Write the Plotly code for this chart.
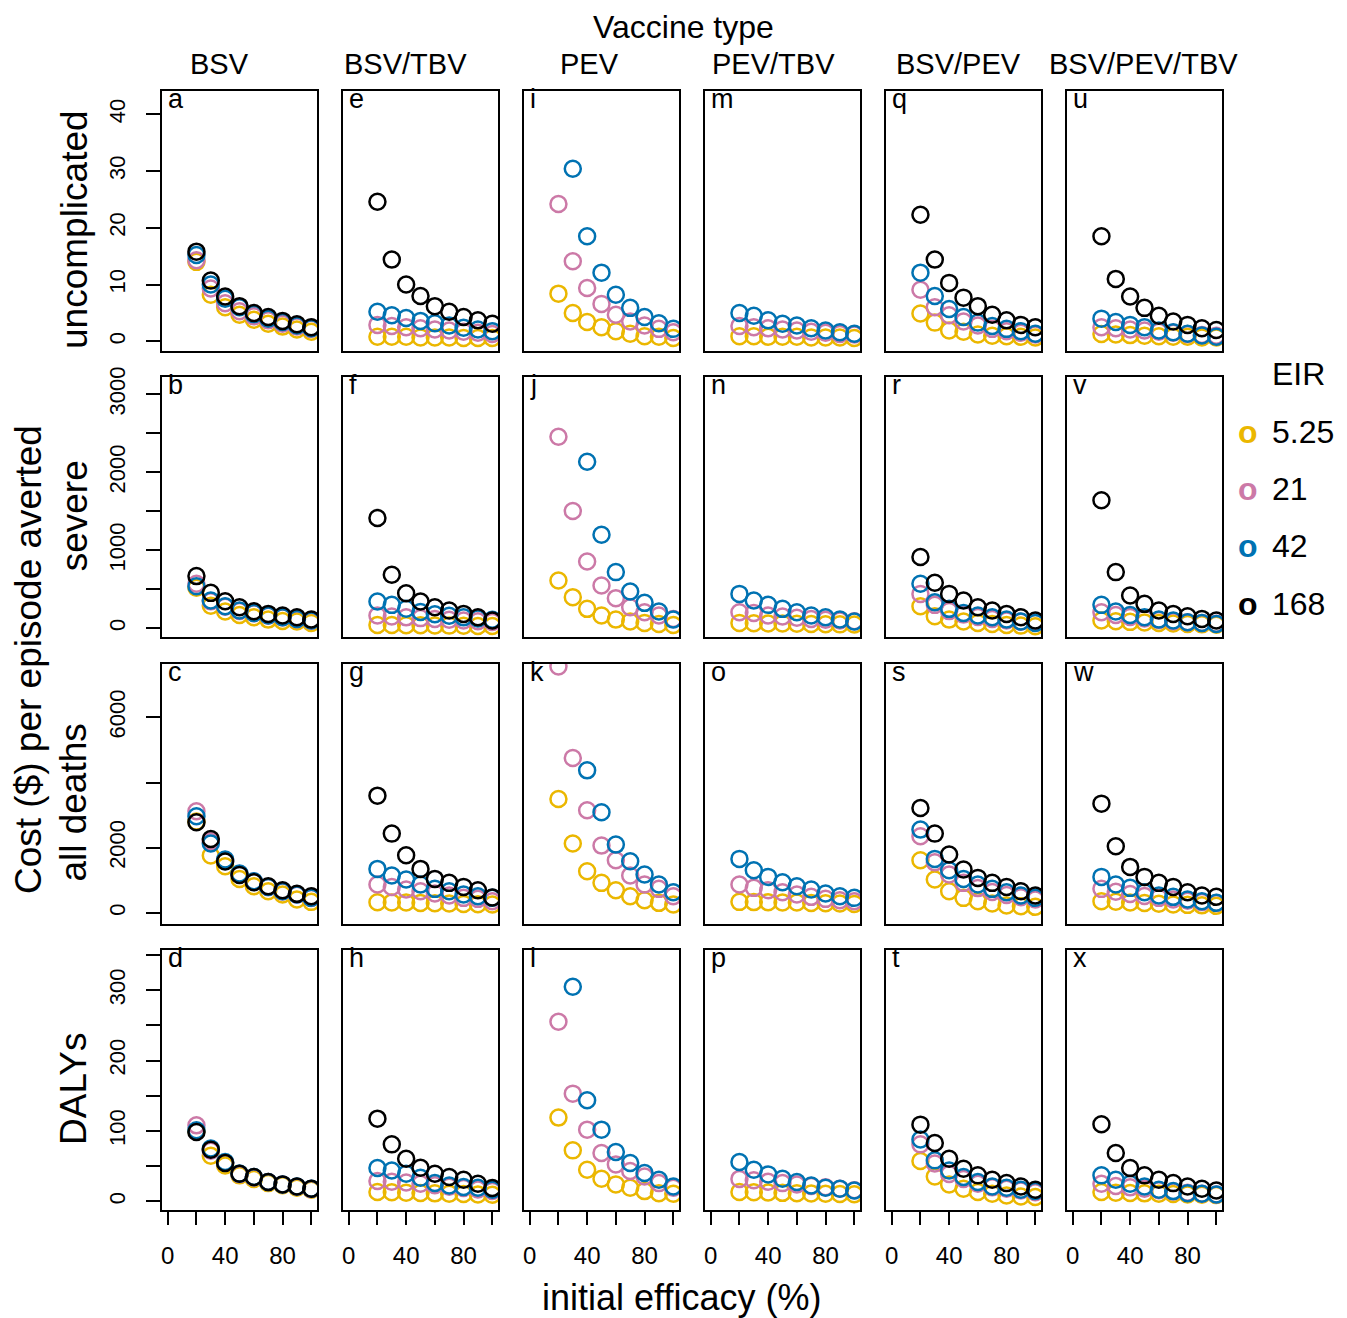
import plotly.graph_objects as go

W, H = 1347, 1318
OFF_X, OFF_Y = -8, -8   # compensate page body margin

# ---------------- data ----------------
EFFICACY = [20, 30, 40, 50, 60, 70, 80, 90, 100]
EIR_LABELS = ["5.25", "21", "42", "168"]
VACCINES = ["BSV", "BSV/TBV", "PEV", "PEV/TBV", "BSV/PEV", "BSV/PEV/TBV"]
OUTCOMES = ["uncomplicated", "severe", "all deaths", "DALYs"]
PANEL_LETTERS = ["a", "b", "c", "d", "e", "f", "g", "h", "i", "j", "k", "l",
                 "m", "n", "o", "p", "q", "r", "s", "t", "u", "v", "w", "x"]
N = None

# uncomplicated
unc_BSV_525 = [14.0, 8.2, 6.0, 4.7, 3.8, 3.1, 2.6, 2.1, 1.7]
unc_BSV_21 = [14.3, 9.3, 6.7, 5.3, 4.4, 3.7, 3.1, 2.6, 2.2]
unc_BSV_42 = [15.2, 10.0, 7.5, 6.0, 4.8, 4.0, 3.4, 2.8, 2.3]
unc_BSV_168 = [15.8, 10.7, 7.9, 6.2, 5.0, 4.3, 3.6, 3.0, 2.5]
unc_BSVTBV_525 = [0.8, 0.8, 0.8, 0.7, 0.7, 0.7, 0.6, 0.6, 0.6]
unc_BSVTBV_21 = [2.9, 2.7, 2.5, 2.3, 2.1, 1.9, 1.7, 1.5, 1.3]
unc_BSVTBV_42 = [5.2, 4.6, 4.1, 3.6, 3.2, 2.8, 2.4, 2.1, 1.8]
unc_BSVTBV_168 = [24.6, 14.4, 10.0, 8.0, 6.2, 5.2, 4.3, 3.7, 3.1]
unc_PEV_525 = [8.4, 5.0, 3.4, 2.5, 1.8, 1.35, 0.9, 0.8, 0.6]
unc_PEV_21 = [24.2, 14.1, 9.4, 6.6, 4.7, 3.5, 2.8, 2.2, 1.6]
unc_PEV_42 = [N, 30.4, 18.5, 12.1, 8.2, 5.9, 4.3, 3.2, 2.2]
unc_PEV_168 = [N, N, N, N, N, N, N, N, N]
unc_PEVTBV_525 = [0.9, 0.9, 0.8, 0.8, 0.8, 0.7, 0.7, 0.7, 0.6]
unc_PEVTBV_21 = [2.7, 2.5, 2.3, 2.1, 1.9, 1.7, 1.5, 1.3, 1.2]
unc_PEVTBV_42 = [5.0, 4.5, 3.7, 3.1, 2.8, 2.3, 1.9, 1.6, 1.35]
unc_PEVTBV_168 = [N, N, N, N, N, N, N, N, N]
unc_BSVPEV_525 = [4.9, 3.3, 1.9, 1.7, 1.2, 1.0, 0.9, 0.8, 0.7]
unc_BSVPEV_21 = [9.1, 6.0, 4.6, 3.5, 2.8, 2.2, 1.8, 1.5, 1.2]
unc_BSVPEV_42 = [12.1, 8.0, 5.7, 4.3, 3.3, 2.7, 2.2, 1.8, 1.35]
unc_BSVPEV_168 = [22.3, 14.4, 10.3, 7.7, 6.2, 4.7, 3.7, 2.9, 2.5]
unc_ALL_525 = [1.3, 1.2, 1.1, 1.0, 0.9, 0.8, 0.8, 0.7, 0.7]
unc_ALL_21 = [2.5, 2.3, 2.1, 1.9, 1.7, 1.5, 1.3, 1.1, 1.0]
unc_ALL_42 = [4.0, 3.4, 2.9, 2.5, 1.9, 1.6, 1.35, 1.05, 0.8]
unc_ALL_168 = [18.5, 11.0, 7.9, 5.9, 4.5, 3.5, 2.9, 2.3, 2.0]

# severe
sev_BSV_525 = [520, 290, 214, 171, 141, 111, 94, 86, 69]
sev_BSV_21 = [570, 345, 275, 222, 192, 160, 138, 117, 96]
sev_BSV_42 = [540, 356, 283, 227, 197, 163, 141, 120, 99]
sev_BSV_168 = [669, 454, 347, 270, 219, 184, 163, 141, 111]
sev_BSVTBV_525 = [43, 42, 40, 38, 36, 34, 32, 30, 28]
sev_BSVTBV_21 = [163, 150, 140, 130, 120, 110, 100, 90, 80]
sev_BSVTBV_42 = [343, 300, 250, 210, 180, 160, 140, 125, 110]
sev_BSVTBV_168 = [1414, 686, 450, 343, 270, 227, 184, 141, 99]
sev_PEV_525 = [613, 399, 249, 163, 111, 86, 69, 56, 43]
sev_PEV_21 = [2456, 1504, 857, 549, 386, 270, 206, 163, 120]
sev_PEV_42 = [N, N, 2135, 1200, 720, 471, 326, 214, 111]
sev_PEV_168 = [N, N, N, N, N, N, N, N, N]
sev_PEVTBV_525 = [69, 65, 62, 60, 57, 55, 52, 50, 48]
sev_PEVTBV_21 = [206, 197, 163, 150, 135, 120, 110, 100, 90]
sev_PEVTBV_42 = [441, 356, 300, 249, 206, 163, 141, 111, 86]
sev_PEVTBV_168 = [N, N, N, N, N, N, N, N, N]
sev_BSVPEV_525 = [283, 154, 111, 86, 69, 56, 43, 34, 26]
sev_BSVPEV_21 = [441, 300, 220, 175, 145, 120, 100, 85, 72]
sev_BSVPEV_42 = [570, 334, 249, 197, 163, 141, 111, 86, 69]
sev_BSVPEV_168 = [913, 583, 441, 356, 270, 227, 184, 141, 99]
sev_ALL_525 = [99, 90, 82, 75, 68, 62, 56, 50, 45]
sev_ALL_21 = [206, 170, 145, 125, 105, 90, 78, 68, 58]
sev_ALL_42 = [300, 214, 171, 141, 111, 99, 77, 69, 56]
sev_ALL_168 = [1642, 720, 420, 313, 227, 184, 154, 120, 99]

# all deaths
dth_BSV_525 = [2800, 1758, 1431, 1042, 818, 664, 562, 409, 337]
dth_BSV_21 = [3117, 2197, 1620, 1190, 960, 790, 655, 555, 455]
dth_BSV_42 = [2964, 2126, 1635, 1206, 971, 797, 664, 562, 460]
dth_BSV_168 = [2780, 2269, 1574, 1165, 940, 818, 695, 583, 511]
dth_BSVTBV_525 = [327, 320, 315, 305, 295, 285, 275, 265, 255]
dth_BSVTBV_21 = [869, 797, 715, 664, 593, 531, 460, 429, 358]
dth_BSVTBV_42 = [1349, 1145, 1022, 869, 736, 664, 562, 511, 460]
dth_BSVTBV_168 = [3597, 2432, 1768, 1349, 1042, 920, 797, 695, 470]
dth_PEV_525 = [3495, 2126, 1278, 920, 695, 511, 388, 307, 256]
dth_PEV_21 = [7560, 4752, 3148, 2064, 1615, 1145, 869, 736, 511]
dth_PEV_42 = [N, N, 4374, 3086, 2095, 1584, 1175, 869, 634]
dth_PEV_168 = [N, N, N, N, N, N, N, N, N]
dth_PEVTBV_525 = [337, 330, 325, 320, 315, 305, 295, 285, 275]
dth_PEVTBV_21 = [869, 767, 695, 634, 562, 491, 429, 388, 358]
dth_PEVTBV_42 = [1656, 1308, 1104, 940, 818, 715, 593, 511, 460]
dth_PEVTBV_168 = [N, N, N, N, N, N, N, N, N]
dth_BSVPEV_525 = [1615, 1022, 664, 460, 358, 286, 225, 204, 184]
dth_BSVPEV_21 = [2350, 1550, 1180, 920, 760, 640, 550, 480, 410]
dth_BSVPEV_42 = [2555, 1656, 1308, 1042, 869, 736, 634, 531, 460]
dth_BSVPEV_168 = [3219, 2432, 1789, 1329, 1073, 920, 797, 664, 531]
dth_ALL_525 = [358, 340, 320, 300, 280, 260, 245, 230, 215]
dth_ALL_21 = [736, 650, 580, 520, 460, 410, 370, 330, 300]
dth_ALL_42 = [1104, 869, 767, 634, 531, 491, 409, 358, 307]
dth_ALL_168 = [3352, 2044, 1410, 1104, 920, 797, 634, 531, 491]

# DALYs
dal_BSV_525 = [100, 65, 51, 37, 32, 26, 23, 19.4, 16.6]
dal_BSV_21 = [108, 72, 55, 39, 34, 27.5, 24, 21, 17.5]
dal_BSV_42 = [101, 75, 56, 39.5, 34.6, 27.5, 24.2, 21.3, 18]
dal_BSV_168 = [98.6, 73.5, 54.5, 39.3, 34.6, 27.5, 24.2, 21.3, 18]
dal_BSVTBV_525 = [13.3, 13, 12.5, 12, 11.5, 11, 10.5, 10, 9.5]
dal_BSVTBV_21 = [29, 28, 27, 25, 23, 21, 19, 17, 15]
dal_BSVTBV_42 = [47.4, 44, 39.3, 33.6, 26.1, 22.7, 20.4, 19.4, 16.6]
dal_BSVTBV_168 = [117.5, 81, 60.7, 47.9, 39.3, 34.6, 30.8, 25, 19]
dal_PEV_525 = [119, 72.5, 45, 32.2, 24.2, 19.4, 14.7, 11.8, 10.9]
dal_PEV_21 = [255, 153, 101.9, 68.7, 52.6, 43.1, 35.5, 26, 19.4]
dal_PEV_42 = [N, 304.7, 143.6, 101.9, 70.1, 54.5, 40.3, 30.8, 21.3]
dal_PEV_168 = [N, N, N, N, N, N, N, N, N]
dal_PEVTBV_525 = [13.3, 13, 12.6, 12.2, 11.8, 11.4, 11, 10.6, 10.2]
dal_PEVTBV_21 = [32, 30, 28, 26, 24, 22, 20, 18, 16]
dal_PEVTBV_42 = [55.9, 45, 38.4, 32.2, 27.5, 22.7, 19.4, 18, 15.6]
dal_PEVTBV_168 = [N, N, N, N, N, N, N, N, N]
dal_BSVPEV_525 = [57.3, 35.5, 24.2, 18, 13.3, 10.9, 8.5, 7.1, 6.2]
dal_BSVPEV_21 = [81, 54, 39, 32, 25, 20, 18, 15.6, 13]
dal_BSVPEV_42 = [88, 58.3, 44, 34.6, 27.5, 21.3, 19.4, 16.6, 14.7]
dal_BSVPEV_168 = [109, 83, 60.7, 46.4, 37, 30.8, 26, 21.3, 16.6]
dal_ALL_525 = [13.3, 12.5, 12, 11.5, 11, 10.5, 10, 9.5, 9]
dal_ALL_21 = [25, 22, 20, 18, 16, 14, 12.5, 11, 10]
dal_ALL_42 = [37, 30.8, 25, 21.3, 16.6, 14.7, 11.8, 10.9, 10]
dal_ALL_168 = [109.5, 68.7, 47.4, 37, 30.8, 26, 21.3, 18, 15.6]

# grid: rows = outcomes, cols = vaccines; each cell = [5.25, 21, 42, 168]
GRID = [
    [[unc_BSV_525, unc_BSV_21, unc_BSV_42, unc_BSV_168],
     [unc_BSVTBV_525, unc_BSVTBV_21, unc_BSVTBV_42, unc_BSVTBV_168],
     [unc_PEV_525, unc_PEV_21, unc_PEV_42, unc_PEV_168],
     [unc_PEVTBV_525, unc_PEVTBV_21, unc_PEVTBV_42, unc_PEVTBV_168],
     [unc_BSVPEV_525, unc_BSVPEV_21, unc_BSVPEV_42, unc_BSVPEV_168],
     [unc_ALL_525, unc_ALL_21, unc_ALL_42, unc_ALL_168]],
    [[sev_BSV_525, sev_BSV_21, sev_BSV_42, sev_BSV_168],
     [sev_BSVTBV_525, sev_BSVTBV_21, sev_BSVTBV_42, sev_BSVTBV_168],
     [sev_PEV_525, sev_PEV_21, sev_PEV_42, sev_PEV_168],
     [sev_PEVTBV_525, sev_PEVTBV_21, sev_PEVTBV_42, sev_PEVTBV_168],
     [sev_BSVPEV_525, sev_BSVPEV_21, sev_BSVPEV_42, sev_BSVPEV_168],
     [sev_ALL_525, sev_ALL_21, sev_ALL_42, sev_ALL_168]],
    [[dth_BSV_525, dth_BSV_21, dth_BSV_42, dth_BSV_168],
     [dth_BSVTBV_525, dth_BSVTBV_21, dth_BSVTBV_42, dth_BSVTBV_168],
     [dth_PEV_525, dth_PEV_21, dth_PEV_42, dth_PEV_168],
     [dth_PEVTBV_525, dth_PEVTBV_21, dth_PEVTBV_42, dth_PEVTBV_168],
     [dth_BSVPEV_525, dth_BSVPEV_21, dth_BSVPEV_42, dth_BSVPEV_168],
     [dth_ALL_525, dth_ALL_21, dth_ALL_42, dth_ALL_168]],
    [[dal_BSV_525, dal_BSV_21, dal_BSV_42, dal_BSV_168],
     [dal_BSVTBV_525, dal_BSVTBV_21, dal_BSVTBV_42, dal_BSVTBV_168],
     [dal_PEV_525, dal_PEV_21, dal_PEV_42, dal_PEV_168],
     [dal_PEVTBV_525, dal_PEVTBV_21, dal_PEVTBV_42, dal_PEVTBV_168],
     [dal_BSVPEV_525, dal_BSVPEV_21, dal_BSVPEV_42, dal_BSVPEV_168],
     [dal_ALL_525, dal_ALL_21, dal_ALL_42, dal_ALL_168]],
]

X_TICKS = [0, 20, 40, 60, 80, 100]
X_TICKTEXT = ["0", "", "40", "", "80", ""]
Y_TICKS = [
    [0, 10, 20, 30, 40],
    [0, 500, 1000, 1500, 2000, 2500, 3000],
    [0, 2000, 4000, 6000],
    [0, 50, 100, 150, 200, 250, 300, 350],
]
Y_TICKTEXT = [
    ["0", "10", "20", "30", "40"],
    ["0", "", "1000", "", "2000", "", "3000"],
    ["0", "2000", "", "6000"],
    ["0", "", "100", "", "200", "", "300", ""],
]

# ---------------- styling ----------------
COLORS = ["#EBB700", "#CC79A7", "#0072B2", "#000000"]
FONT = "Liberation Sans, Arial, Helvetica, sans-serif"
Y_RANGES = [[-1.7, 44.1], [-116, 3219], [-330, 7650], [-12, 357]]
X_RANGE = [-4, 104]

COL_LEFT0, COL_STEP, COL_W = 162, 181.0, 155
ROW_TOP0, ROW_STEP, ROW_H = 91, 286.3, 260
TITLE_X = [219, 405, 589, 773, 958, 1143]


def px(x):
    return (x + OFF_X) / W


def py(y):
    return 1 - (y + OFF_Y) / H


fig = go.Figure()
layout = dict(
    template="none",
    width=W, height=H,
    margin=dict(l=0, r=0, t=0, b=0, pad=0, autoexpand=False),
    paper_bgcolor="white", plot_bgcolor="white",
    showlegend=False,
    font=dict(family=FONT, color="black"),
)
annotations = []

k = 0
for r in range(4):
    for c in range(6):
        k += 1
        xname = "x" if k == 1 else f"x{k}"
        yname = "y" if k == 1 else f"y{k}"
        left = COL_LEFT0 + c * COL_STEP
        top = ROW_TOP0 + r * ROW_STEP
        xd = [px(left), px(left + COL_W)]
        yd = [py(top + ROW_H), py(top)]
        series = GRID[r][c]
        for i, vals in enumerate(series):
            fig.add_trace(go.Scatter(
                x=EFFICACY, y=vals, mode="markers",
                xaxis=xname, yaxis=yname,
                marker=dict(symbol="circle-open", size=16,
                            color=COLORS[i], line=dict(width=2.5, color=COLORS[i])),
                name=EIR_LABELS[i], hoverinfo="x+y+name",
            ))
        bottom = (r == 3)
        first = (c == 0)
        layout["xaxis" if k == 1 else f"xaxis{k}"] = dict(
            domain=xd, range=X_RANGE, anchor=yname, automargin=False,
            showline=True, mirror=True, linecolor="black", linewidth=2,
            showgrid=False, zeroline=False,
            ticks="outside" if bottom else "", ticklen=13, tickwidth=2, tickcolor="black",
            tickvals=X_TICKS, ticktext=X_TICKTEXT,
            showticklabels=bottom, ticklabelstandoff=10,
            tickfont=dict(size=24, family=FONT, color="black"),
        )
        layout["yaxis" if k == 1 else f"yaxis{k}"] = dict(
            domain=yd, range=Y_RANGES[r], anchor=xname, automargin=False,
            showline=True, mirror=True, linecolor="black", linewidth=2,
            showgrid=False, zeroline=False,
            ticks="outside" if first else "", ticklen=14, tickwidth=2, tickcolor="black",
            tickvals=Y_TICKS[r], ticktext=Y_TICKTEXT[r],
            showticklabels=first, tickangle=-90, ticklabelstandoff=12,
            tickfont=dict(size=22, family=FONT, color="black"),
        )
        letter = PANEL_LETTERS[c * 4 + r]
        annotations.append(dict(
            text=letter, xref="paper", yref="paper",
            x=px(left + 4), y=py(top), xanchor="left", yanchor="top",
            yshift=9, showarrow=False, font=dict(size=27, family=FONT, color="black"),
        ))

# column titles
for c, name in enumerate(VACCINES):
    annotations.append(dict(
        text=name, xref="paper", yref="paper", x=px(TITLE_X[c]), y=py(64),
        xanchor="center", yanchor="middle", showarrow=False,
        font=dict(size=29, family=FONT, color="black"),
    ))
annotations.append(dict(
    text="Vaccine type", xref="paper", yref="paper", x=px(683), y=py(27),
    xanchor="center", yanchor="middle", showarrow=False, borderpad=0,
    font=dict(size=32, family=FONT, color="black"),
))
# row titles
for r, name in enumerate(OUTCOMES):
    cy = ROW_TOP0 + r * ROW_STEP + ROW_H / 2 + 9
    annotations.append(dict(
        text=name, xref="paper", yref="paper", x=px(74), y=py(cy),
        xanchor="center", yanchor="middle", textangle=-90, showarrow=False,
        font=dict(size=37, family=FONT, color="black"),
    ))
annotations.append(dict(
    text="Cost ($) per episode averted", xref="paper", yref="paper",
    x=px(28), y=py(660), xanchor="center", yanchor="middle", textangle=-90,
    showarrow=False, font=dict(size=37, family=FONT, color="black"),
))
annotations.append(dict(
    text="initial efficacy (%)", xref="paper", yref="paper",
    x=px(681), y=py(1297), xanchor="center", yanchor="middle",
    showarrow=False, font=dict(size=36, family=FONT, color="black"),
))
# legend
annotations.append(dict(
    text="EIR", xref="paper", yref="paper", x=px(1270), y=py(374),
    xanchor="left", yanchor="middle", showarrow=False,
    font=dict(size=32, family=FONT, color="black"),
))
LEG_Y = [432, 489, 546, 604]
for i, lab in enumerate(EIR_LABELS):
    annotations.append(dict(
        text="<b>o</b>", xref="paper", yref="paper", x=px(1248), y=py(LEG_Y[i]),
        xanchor="center", yanchor="middle", showarrow=False,
        font=dict(size=32, family=FONT, color=COLORS[i]),
    ))
    annotations.append(dict(
        text=lab, xref="paper", yref="paper", x=px(1270), y=py(LEG_Y[i]),
        xanchor="left", yanchor="middle", showarrow=False,
        font=dict(size=32, family=FONT, color="black"),
    ))

layout["annotations"] = annotations
fig.update_layout(**layout)
fig.write_html("out.html")
